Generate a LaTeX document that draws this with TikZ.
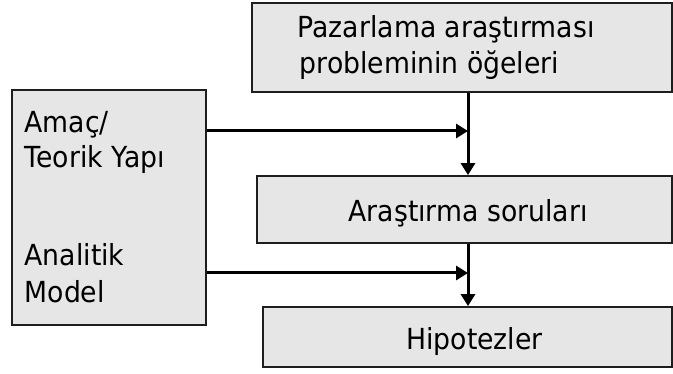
\documentclass[tikz,border=0pt]{standalone}
\usepackage{fontspec}
\setmainfont[FakeStretch=0.92]{DejaVu Sans}
\usetikzlibrary{arrows.meta}
\definecolor{panelgray}{RGB}{230,230,230}
\definecolor{edgegray}{RGB}{30,30,30}
\begin{document}
\begin{tikzpicture}[x=1pt,y=-1pt,
  panel/.style={draw=edgegray, line width=1.8pt, fill=panelgray, inner sep=0pt},
  caption/.style={font=\fontsize{29}{36}\selectfont, inner sep=0pt, anchor=base west},
  centercap/.style={font=\fontsize{29}{36}\selectfont, inner sep=0pt, anchor=base},
  flow/.style={line width=3pt, -{Triangle[length=12pt,width=14pt]}}]
\useasboundingbox (0,0) rectangle (673,374);

% boxes
\node[panel, minimum width=420pt, minimum height=89pt] (elem) at (462,47.5) {};
\node[panel, minimum width=194pt, minimum height=235pt] (src) at (109,207.5) {};
\node[panel, minimum width=415pt, minimum height=67pt] (quest) at (464.5,209.5) {};
\node[panel, minimum width=409pt, minimum height=60pt] (hyp) at (467.5,337) {};

% texts
\node[caption] (elemA) at (297.5,37.3) {Pazarlama araştırması};
\node[caption] (elemB) at (299.5,73.3) {probleminin öğeleri};
\node[caption] (srcA) at (24.5,132.7) {Amaç/};
\node[caption] (srcB) at (24.5,168) {Teorik Yapı};
\node[caption] (srcC) at (24.5,265.7) {Analitik};
\node[caption] (srcD) at (24.5,303) {Model};
\node[centercap] (questtxt) at (468,222) {Araştırma soruları};
\node[centercap] (hyptxt) at (474.5,350) {Hipotezler};

% junction points on the vertical flow line
\coordinate (j1) at (468,131);
\coordinate (j2) at (468,273);

% connectors
\draw[flow] (elem.south -| j1) -- (quest.north -| j1);
\draw[flow] (quest.south -| j2) -- (hyp.north -| j2);
\draw[flow] (src.east |- j1) -- (j1);
\draw[flow] (src.east |- j2) -- (j2);
\end{tikzpicture}
\end{document}
